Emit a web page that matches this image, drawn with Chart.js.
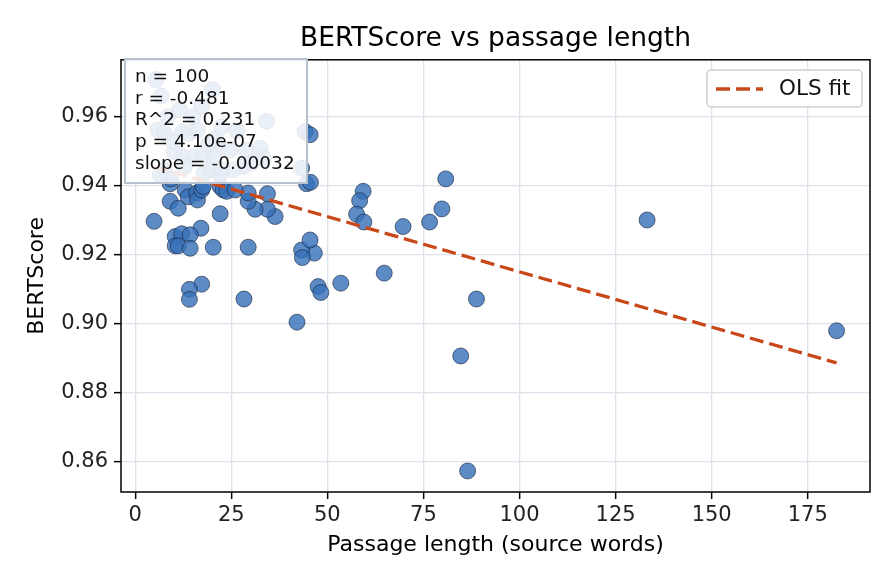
<!DOCTYPE html>
<html>
<head>
<meta charset="utf-8">
<script src="https://cdn.jsdelivr.net/npm/chart.js@4.4.0/dist/chart.umd.min.js"></script>
<style>
  html, body { margin: 0; padding: 0; background: #fff; }
  #wrap { width: 896px; height: 584px; position: relative; }
</style>
</head>
<body>
<div id="wrap"><canvas id="myChart"></canvas></div>
<script>
// Data
const passageWords = [
    182.5, 133.2, 86.5, 84.7, 88.8, 80.8, 79.8, 76.6, 69.7, 64.8,
    53.5, 47.6, 48.3, 46.6, 43.3, 43.5, 45.5, 59.3, 58.4, 57.6,
    59.5, 44.6, 45.6, 43.3, 44.2, 45.5, 36.4, 34.4, 34.4, 31.2,
    29.4, 29.4, 29.4, 28.3, 42.1, 22.1, 22.1, 22.9, 20.3, 17.1,
    17.3, 14.1, 14.1, 10.4, 12.1, 14.3, 10.4, 11.2, 14.3, 4.9,
    9.1, 11.2, 9.1, 13.0, 13.8, 16.0, 16.2, 17.3, 23.8, 26.0,
    17.7, 5.4, 6.7, 20.1, 17.3, 5.9, 7.6, 12.3, 14.0, 16.2,
    12.3, 15.3, 17.9, 10.1, 17.9, 19.7, 7.5, 9.3, 34.2, 20.8,
    22.5, 29.0, 32.5, 22.1, 20.4, 28.1, 25.5, 30.3, 22.5, 22.1,
    6.5, 33.3, 24.7, 8.5, 11.5, 15.0, 26.5, 12.8, 19.0, 9.8
];
const bertScores = [
    0.8980, 0.9301, 0.8574, 0.8907, 0.9072, 0.9420, 0.9333, 0.9295, 0.9282, 0.9147,
    0.9118, 0.9108, 0.9091, 0.9205, 0.9214, 0.9192, 0.9243, 0.9384, 0.9357, 0.9318,
    0.9295, 0.9406, 0.9410, 0.9451, 0.9557, 0.9548, 0.9311, 0.9332, 0.9377, 0.9332,
    0.9355, 0.9379, 0.9222, 0.9072, 0.9005, 0.9319, 0.9398, 0.9388, 0.9222, 0.9277,
    0.9115, 0.9100, 0.9071, 0.9253, 0.9261, 0.9258, 0.9226, 0.9226, 0.9219, 0.9297,
    0.9355, 0.9335, 0.9406, 0.9388, 0.9368, 0.9379, 0.9359, 0.9388, 0.9384, 0.9388,
    0.9398, 0.9708, 0.9660, 0.9679, 0.9630, 0.9561, 0.9552, 0.9556, 0.9552, 0.9561,
    0.9484, 0.9484, 0.9488, 0.9499, 0.9436, 0.9446, 0.9446, 0.9420, 0.9587, 0.9537,
    0.9571, 0.9504, 0.9509, 0.9513, 0.9484, 0.9456, 0.9446, 0.9467, 0.9446, 0.9432,
    0.9432, 0.9480, 0.9504, 0.9600, 0.9620, 0.9600, 0.9560, 0.9455, 0.9520, 0.9530
];

// OLS fit line end points
const fitX = [4.9, 182.5];
const fitY = [0.9455, 0.8887];

const xTicks = [0, 25, 50, 75, 100, 125, 150, 175];
const yTicks = [0.86, 0.88, 0.90, 0.92, 0.94, 0.96];

const statsLines = [
    "n = 100",
    "r = -0.481",
    "R^2 = 0.231",
    "p = 4.10e-07",
    "slope = -0.00032"
];

const FONT = "'DejaVu Sans', 'Liberation Sans', sans-serif";
const fitColor = "#c9481a";

// frame, stats box and legend drawn on top
const overlayPlugin = {
    id: "overlay",
    afterDraw(chart) {
        const ctx = chart.ctx;
        const a = chart.chartArea;
        ctx.save();

        // frame
        ctx.strokeStyle = "#000";
        ctx.lineWidth = 1.5;
        ctx.strokeRect(a.left, a.top, a.right - a.left, a.bottom - a.top);

        // stats box
        ctx.fillStyle = "rgba(255,255,255,0.87)";
        ctx.fillRect(125, 59, 182, 124);
        ctx.strokeStyle = "#b6c2d0";
        ctx.lineWidth = 2;
        ctx.strokeRect(125, 59, 182, 124);
        ctx.fillStyle = "#111";
        ctx.font = "18.5px " + FONT;
        ctx.textBaseline = "middle";
        ctx.textAlign = "left";
        statsLines.forEach((t, i) => ctx.fillText(t, 135, 77 + i * 21.8));

        // legend
        const lx = 707, ly = 70, lw = 155, lh = 37;
        ctx.beginPath();
        ctx.roundRect(lx, ly, lw, lh, 4);
        ctx.fillStyle = "rgba(255,255,255,0.85)";
        ctx.fill();
        ctx.strokeStyle = "#d0d0d0";
        ctx.lineWidth = 1.5;
        ctx.stroke();
        ctx.beginPath();
        ctx.setLineDash([14, 6]);
        ctx.strokeStyle = fitColor;
        ctx.lineWidth = 3.3;
        ctx.moveTo(716, 89);
        ctx.lineTo(763, 89);
        ctx.stroke();
        ctx.setLineDash([]);
        ctx.fillStyle = "#111";
        ctx.font = "21.5px " + FONT;
        ctx.fillText(chart.data.datasets[0].label, 779, 89);

        ctx.restore();
    }
};

const ctx = document.getElementById("myChart").getContext("2d");
const myChart = new Chart(ctx, {
    type: "scatter",
    data: {
        datasets: [
            {
                label: "OLS fit",
                type: "line",
                data: fitX.map((x, i) => ({ x: x, y: fitY[i] })),
                borderColor: fitColor,
                borderWidth: 3.3,
                borderDash: [14, 6],
                pointRadius: 0,
                fill: false,
                order: 0
            },
            {
                label: "passages",
                data: passageWords.map((x, i) => ({ x: x, y: bertScores[i] })),
                backgroundColor: "rgba(56,114,186,0.82)",
                borderColor: "rgba(20,32,52,0.85)",
                borderWidth: 0.7,
                pointRadius: 8,
                pointHoverRadius: 8,
                order: 1
            }
        ]
    },
    options: {
        responsive: true,
        maintainAspectRatio: false,
        animation: false,
        events: [],
        layout: { padding: { left: 0, right: 26, top: 0, bottom: 0 } },
        plugins: {
            legend: { display: false },
            tooltip: { enabled: false },
            title: {
                display: true,
                text: "BERTScore vs passage length",
                fullSize: false,
                color: "#000",
                font: { family: FONT, size: 26.5, weight: "normal" },
                padding: { top: 23, bottom: 5 }
            }
        },
        scales: {
            x: {
                type: "linear",
                min: -3.7,
                max: 191.2,
                afterBuildTicks: s => { s.ticks = xTicks.map(v => ({ value: v })); },
                afterFit: s => { s.height = 92; },
                ticks: {
                    color: "#222",
                    font: { family: FONT, size: 21 },
                    padding: 4,
                    maxRotation: 0,
                    callback: v => String(v)
                },
                grid: {
                    color: "#dde3ec",
                    lineWidth: 1.3,
                    tickColor: "#000",
                    tickLength: 7,
                    tickWidth: 1.5
                },
                border: { display: false },
                title: {
                    display: true,
                    text: "Passage length (source words)",
                    color: "#000",
                    font: { family: FONT, size: 22 },
                    padding: { top: 26, bottom: 26 }
                }
            },
            y: {
                type: "linear",
                min: 0.8513,
                max: 0.9765,
                afterBuildTicks: s => { s.ticks = yTicks.map(v => ({ value: v })); },
                afterFit: s => { s.width = 121; },
                ticks: {
                    color: "#222",
                    font: { family: FONT, size: 21 },
                    padding: 6,
                    callback: v => v.toFixed(2)
                },
                grid: {
                    color: "#dde3ec",
                    lineWidth: 1.3,
                    tickColor: "#000",
                    tickLength: 7,
                    tickWidth: 1.5
                },
                border: { display: false },
                title: {
                    display: true,
                    text: "BERTScore",
                    color: "#000",
                    font: { family: FONT, size: 22 },
                    padding: { top: 24, bottom: 24 }
                }
            }
        }
    },
    plugins: [overlayPlugin]
});
</script>
</body>
</html>
